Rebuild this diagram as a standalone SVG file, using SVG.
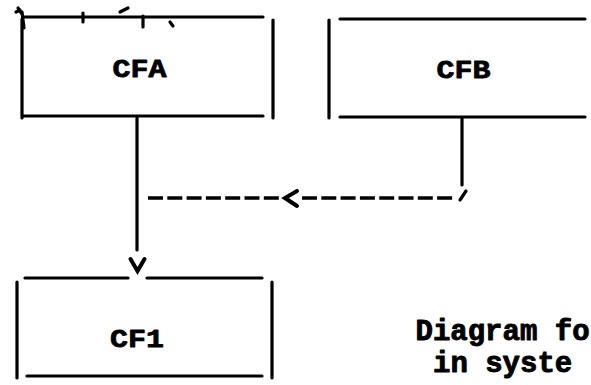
<svg xmlns="http://www.w3.org/2000/svg" width="591" height="385" viewBox="0 0 591 385">
<style>
.ln{stroke:#000;stroke-width:3.2;fill:none;stroke-linecap:round}
.lbl{font-family:"Liberation Mono","Courier New",monospace;font-weight:bold;font-size:30px;fill:#000;stroke:#000;stroke-width:0.9;stroke-linejoin:round}
.note{font-size:29px}
.dash{stroke:#000;stroke-width:3.6;fill:none;stroke-dasharray:15 4.3;stroke-linecap:butt}
.head{stroke:#000;stroke-width:4;fill:none;stroke-linecap:round;stroke-linejoin:miter}
</style>
<rect width="591" height="385" fill="#fff"/>
<g id="cfa">
<path class="ln" d="M24 17 H263 M22 19 V118 M273 20 V118 M22 116 H263"/>
<path class="ln" stroke-width="2" d="M18 8 L22 14 M16 12 L20 10 M22 12 L24 28 M83 13 V22 M143 16 V27 M120 12 L128 8 M170 22 L173 26"/>
<text class="lbl" x="139.5" y="77" text-anchor="middle" transform="translate(0 77) scale(1 0.88) translate(0 -77)">CFA</text>
</g>
<g id="cfb">
<path class="ln" d="M340 19 H585 M329 20 V118 M340 117 H585"/>
<text class="lbl" x="463.5" y="78" text-anchor="middle" transform="translate(0 78) scale(1 0.88) translate(0 -78)">CFB</text>
</g>
<g id="cf1">
<path class="ln" d="M25 278 H128 M147 278 H262 M17 282 V378 M272 282 V378 M27 376 H262"/>
<text class="lbl" x="137" y="347" text-anchor="middle" transform="translate(0 347) scale(1 0.88) translate(0 -347)">CF1</text>
</g>
<g id="note">
<text class="lbl note" x="415.5" y="340">Diagram fo</text>
<text class="lbl note" x="433" y="372">in syste</text>
</g>
<g id="connectors">
<path class="ln" d="M137 118 V250"/>
<path class="head" d="M130.5 259 L137.5 271 L144.5 259"/>
<path class="ln" d="M462 118 V185"/>
<path class="ln" stroke-width="3.8" d="M460 200 L466 191"/>
<path class="dash" d="M148 198 H280"/>
<path class="dash" d="M302 198 H454"/>
<path class="head" d="M297 191 L285 198 L297 206"/>
</g>
</svg>
